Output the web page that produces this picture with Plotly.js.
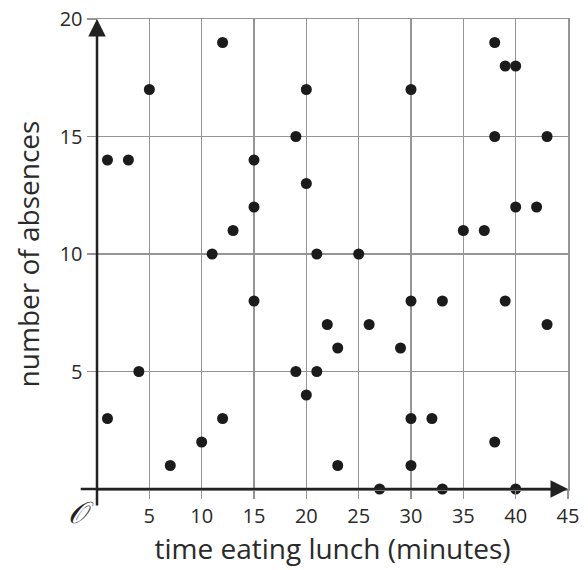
<!DOCTYPE html>
<html>
<head>
<meta charset="utf-8">
<script src="https://cdn.plot.ly/plotly-3.0.1.min.js"></script>
<style>html,body{margin:0;padding:0;background:#fff;}#chart{width:588px;height:570px;}</style>
</head>
<body>
<div id="chart"></div>
<script>
const lunchMinutes = [1,3,5,12,15,15,13,11,19,20,20,21,30,38,39,40,38,43,40,42,35,37,25,15,4,1,7,10,12,19,20,21,30,33,39,22,26,43,23,29,30,32,38,23,30,27,33,40];
const absences     = [14,14,17,19,14,12,11,10,15,17,13,10,17,19,18,18,15,15,12,12,11,11,10,8,5,3,1,2,3,5,4,5,8,8,8,7,7,7,6,6,3,3,2,1,1,0,0,0];
const xTicks = [5,10,15,20,25,30,35,40,45];
const yTicks = [5,10,15,20];
const xTitle = "time eating lunch (minutes)";
const yTitle = "number of absences";

const axisColor = '#222';
const gridColor = '#959595';
const font = '"Open Sans", "Noto Sans", sans-serif';

const data = [{
  type: 'scatter', mode: 'markers',
  x: lunchMinutes, y: absences,
  marker: {size: 11, color: '#1b1b1b'},
  cliponaxis: false, hoverinfo: 'x+y'
}];

const layout = {
  width: 588, height: 570,
  margin: {l: 97, r: 20, t: 19, b: 81},
  paper_bgcolor: '#fff', plot_bgcolor: '#fff',
  showlegend: false,
  xaxis: {
    range: [0, 45], tickvals: xTicks, ticktext: xTicks.map(String),
    showgrid: true, gridcolor: gridColor, gridwidth: 1.5,
    zeroline: false, showline: true, linecolor: gridColor, linewidth: 1.5, mirror: true,
    ticks: 'outside', ticklen: 8, tickwidth: 1.5, tickcolor: gridColor,
    tickfont: {family: font, size: 20, color: '#2a2a2a'},
    title: {text: xTitle, font: {family: font, size: 28, color: '#2a2a2a'}, standoff: 12},
    fixedrange: true
  },
  yaxis: {
    range: [0, 20], tickvals: yTicks, ticktext: yTicks.map(String),
    showgrid: true, gridcolor: gridColor, gridwidth: 1.5,
    zeroline: false, showline: true, linecolor: gridColor, linewidth: 1.5, mirror: true,
    ticks: 'outside', ticklen: 9, tickwidth: 1.5, tickcolor: gridColor,
    tickfont: {family: font, size: 20, color: '#2a2a2a'},
    title: {text: yTitle, font: {family: font, size: 28, color: '#2a2a2a'}, standoff: 12},
    fixedrange: true
  },
  annotations: [
    {x: 45, y: 0, ax: -1.7, ay: 0, xref: 'x', yref: 'y', axref: 'x', ayref: 'y',
     showarrow: true, arrowhead: 2, arrowsize: 1.4, arrowwidth: 2.5, arrowcolor: axisColor, text: ''},
    {x: 0, y: 20, ax: 0, ay: -0.77, xref: 'x', yref: 'y', axref: 'x', ayref: 'y',
     showarrow: true, arrowhead: 2, arrowsize: 1.4, arrowwidth: 2.5, arrowcolor: axisColor, text: ''},
    {x: 0, y: 0, xref: 'x', yref: 'y', xanchor: 'right', yanchor: 'top', xshift: -1, yshift: -4,
     showarrow: false, text: '<i>𝒪</i>', font: {family: '"DejaVu Serif", "Liberation Serif", serif', size: 30, color: '#222'}}
  ]
};

Plotly.newPlot('chart', data, layout, {displayModeBar: false, staticPlot: true});
</script>
</body>
</html>
